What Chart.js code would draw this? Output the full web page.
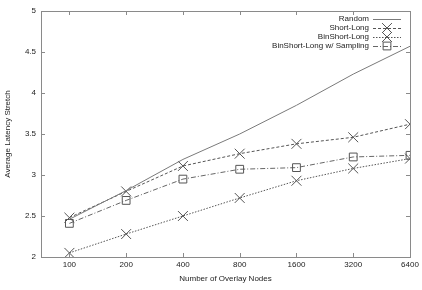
<!DOCTYPE html>
<html>
<head>
<meta charset="utf-8">
<script src="https://cdn.jsdelivr.net/npm/chart.js@4"></script>
<style>
  html, body { margin: 0; padding: 0; background: #fff; }
  #wrap { width: 422px; height: 290px; }
</style>
</head>
<body>
<div id="wrap"><canvas id="latencyChart" width="422" height="290"></canvas></div>
<script>
const nodeLabels = ['100', '200', '400', '800', '1600', '3200', '6400'];
const yTicks = [2, 2.5, 3, 3.5, 4, 4.5, 5];

const randomVals      = [2.46, 2.81, 3.19, 3.50, 3.85, 4.23, 4.57];
const shortLongVals   = [2.48, 2.80, 3.11, 3.26, 3.38, 3.46, 3.62];
const binShortVals    = [2.05, 2.28, 2.50, 2.72, 2.93, 3.08, 3.20];
const samplingVals    = [2.41, 2.69, 2.95, 3.07, 3.09, 3.22, 3.24];

const FONT = 'Liberation Sans';
const FS = 8;

function toPoints(vals) {
  return vals.map((v, i) => ({ x: i, y: v }));
}

const datasets = [
  {
    label: 'Random',
    data: toPoints(randomVals),
    borderColor: '#7a7a7a',
    borderWidth: 1,
    pointRadius: 0,
    pointStyle: false
  },
  {
    label: 'Short-Long',
    data: toPoints(shortLongVals),
    borderColor: '#555',
    borderWidth: 1,
    borderDash: [3, 2],
    pointStyle: 'crossRot',
    pointRadius: 7,
    pointBorderColor: '#555',
    pointBorderWidth: 1
  },
  {
    label: 'BinShort-Long',
    data: toPoints(binShortVals),
    borderColor: '#555',
    borderWidth: 1,
    borderDash: [1.5, 1.5],
    pointStyle: 'crossRot',
    pointRadius: 7,
    pointBorderColor: '#555',
    pointBorderWidth: 1
  },
  {
    label: 'BinShort-Long w/ Sampling',
    data: toPoints(samplingVals),
    borderColor: '#666',
    borderWidth: 1,
    borderDash: [5, 2, 1, 2],
    pointStyle: 'rect',
    pointRadius: 5.5,
    pointBackgroundColor: 'rgba(0,0,0,0)',
    pointBorderColor: '#555',
    pointBorderWidth: 1
  }
];

// gnuplot-ish frame with inward ticks on all four sides
const framePlugin = {
  id: 'frame',
  afterDatasetsDraw(chart) {
    const { ctx, chartArea: a, scales } = chart;
    ctx.save();
    ctx.strokeStyle = '#8a8a8a';
    ctx.lineWidth = 1;
    ctx.setLineDash([]);
    ctx.strokeRect(a.left + 0.5, a.top + 0.5, a.right - a.left, a.bottom - a.top);
    ctx.beginPath();
    scales.y.ticks.forEach(t => {
      const y = Math.round(scales.y.getPixelForValue(t.value)) + 0.5;
      ctx.moveTo(a.left, y); ctx.lineTo(a.left + 4, y);
      ctx.moveTo(a.right, y); ctx.lineTo(a.right - 4, y);
    });
    scales.x.ticks.forEach(t => {
      const x = Math.round(scales.x.getPixelForValue(t.value)) + 0.5;
      ctx.moveTo(x, a.bottom); ctx.lineTo(x, a.bottom - 4);
      ctx.moveTo(x, a.top); ctx.lineTo(x, a.top + 4);
    });
    ctx.stroke();
    ctx.restore();
  }
};

// legend: right-aligned text with line sample on the right
const keyPlugin = {
  id: 'key',
  afterDatasetsDraw(chart) {
    const { ctx } = chart;
    const textRight = 369;
    const lineL = 373, lineR = 401;
    const rows = [19, 28, 37, 46];
    ctx.save();
    ctx.font = FS + 'px "' + FONT + '"';
    ctx.textAlign = 'right';
    ctx.textBaseline = 'middle';
    chart.data.datasets.forEach((ds, i) => {
      const y = rows[i];
      ctx.fillStyle = '#222';
      ctx.fillText(ds.label, textRight, y);
      ctx.strokeStyle = ds.borderColor;
      ctx.lineWidth = 1;
      ctx.setLineDash(ds.borderDash || []);
      ctx.beginPath();
      ctx.moveTo(lineL, y + 0.5);
      ctx.lineTo(lineR, y + 0.5);
      ctx.stroke();
      ctx.setLineDash([]);
      if (ds.pointStyle && Chart.helpers && Chart.helpers.drawPoint) {
        ctx.strokeStyle = ds.pointBorderColor;
        ctx.fillStyle = 'rgba(0,0,0,0)';
        Chart.helpers.drawPoint(ctx, {
          pointStyle: ds.pointStyle,
          radius: ds.pointRadius,
          rotation: 0,
          borderWidth: 1
        }, (lineL + lineR) / 2, y);
      }
    });
    ctx.restore();
  }
};

const ctx = document.getElementById('latencyChart').getContext('2d');
new Chart(ctx, {
  type: 'line',
  data: { datasets },
  plugins: [framePlugin, keyPlugin],
  options: {
    responsive: false,
    animation: false,
    layout: { padding: { top: 11, right: 12, bottom: 0, left: 0 } },
    plugins: {
      legend: { display: false },
      tooltip: { enabled: false }
    },
    scales: {
      x: {
        type: 'linear',
        min: -0.5,
        max: 6,
        afterBuildTicks: s => { s.ticks = nodeLabels.map((_, i) => ({ value: i })); },
        afterFit: s => { s.height = 33; },
        ticks: {
          callback: v => nodeLabels[v],
          font: { family: FONT, size: FS },
          color: '#222',
          padding: 3,
          maxRotation: 0
        },
        grid: { display: false, drawTicks: false },
        border: { display: false },
        title: {
          display: true,
          text: 'Number of Overlay Nodes',
          font: { family: FONT, size: FS },
          color: '#222',
          padding: { top: 1, bottom: 6 }
        }
      },
      y: {
        min: 2,
        max: 5,
        afterBuildTicks: s => { s.ticks = yTicks.map(v => ({ value: v })); },
        afterFit: s => { s.width = 41; },
        ticks: {
          callback: v => String(v),
          font: { family: FONT, size: FS },
          color: '#222',
          padding: 5
        },
        grid: { display: false, drawTicks: false },
        border: { display: false },
        title: {
          display: true,
          text: 'Average Latency Stretch',
          font: { family: FONT, size: FS },
          color: '#222',
          padding: { top: 3, bottom: 0 }
        }
      }
    }
  }
});
</script>
</body>
</html>
